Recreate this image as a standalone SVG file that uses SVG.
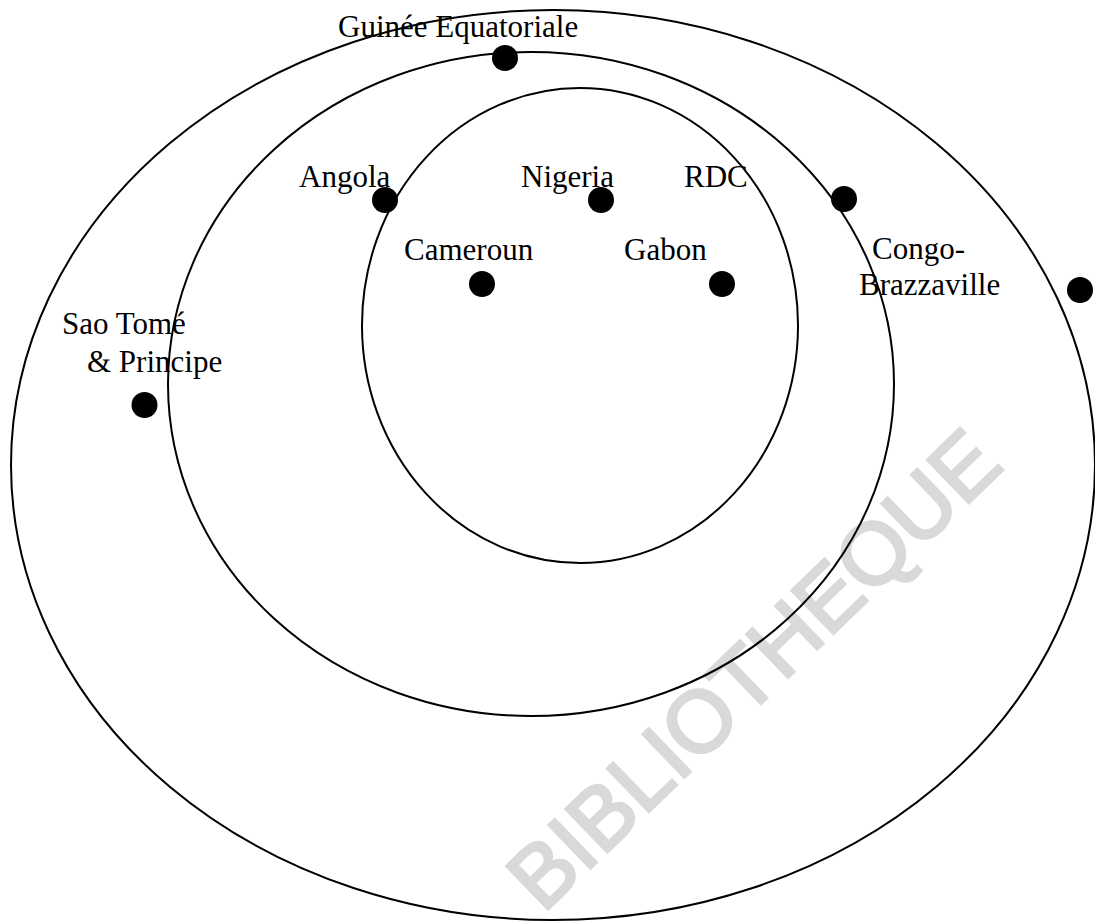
<svg xmlns="http://www.w3.org/2000/svg" width="1095" height="921" viewBox="0 0 1095 921">
  <style>
    .ring { fill: none; stroke: #000; stroke-width: 2; }
    .dot { fill: #000; }
    .lbl { font-family: "Liberation Serif", "Times New Roman", serif; font-size: 31px; fill: #000; }
    .wm { font-family: "Liberation Sans", Arial, sans-serif; font-size: 87px; fill: #d9d9d9; stroke: #d9d9d9; stroke-width: 3; }
  </style>
  <rect width="1095" height="921" fill="#fff"/>
  <g id="watermark">
    <text class="wm" transform="translate(543,914) rotate(-44)" x="0" y="0">BIBLIOTHEQUE</text>
  </g>
  <g id="rings">
    <ellipse id="ring-outer" class="ring" cx="553" cy="465" rx="542" ry="455"/>
    <ellipse id="ring-middle" class="ring" cx="531" cy="384" rx="363" ry="332"/>
    <ellipse id="ring-inner" class="ring" cx="580" cy="325.5" rx="218" ry="237.5"/>
  </g>
  <g id="node-guinee">
    <text class="lbl" x="338" y="37">Guinée Equatoriale</text>
    <circle class="dot" cx="505" cy="58" r="13"/>
  </g>
  <g id="node-angola">
    <text class="lbl" x="299" y="187">Angola</text>
    <circle class="dot" cx="385" cy="200" r="13"/>
  </g>
  <g id="node-nigeria">
    <text class="lbl" x="521" y="187">Nigeria</text>
    <circle class="dot" cx="601" cy="200" r="13"/>
  </g>
  <g id="node-rdc">
    <text class="lbl" x="684" y="187">RDC</text>
  </g>
  <g id="node-cameroun">
    <text class="lbl" x="404" y="260">Cameroun</text>
    <circle class="dot" cx="482" cy="284" r="13"/>
  </g>
  <g id="node-gabon">
    <text class="lbl" x="624" y="260">Gabon</text>
    <circle class="dot" cx="722" cy="284" r="13"/>
  </g>
  <g id="node-congo">
    <circle class="dot" cx="844" cy="199" r="13"/>
    <text class="lbl" x="872" y="259">Congo-</text>
    <text class="lbl" x="859" y="295">Brazzaville</text>
  </g>
  <g id="node-extra">
    <circle class="dot" cx="1080" cy="290" r="13"/>
  </g>
  <g id="node-saotome">
    <text class="lbl" x="62" y="334">Sao Tomé</text>
    <text class="lbl" x="87" y="372">&amp; Principe</text>
    <circle class="dot" cx="144.5" cy="405" r="13"/>
  </g>
  <g id="connectors"/>
</svg>
